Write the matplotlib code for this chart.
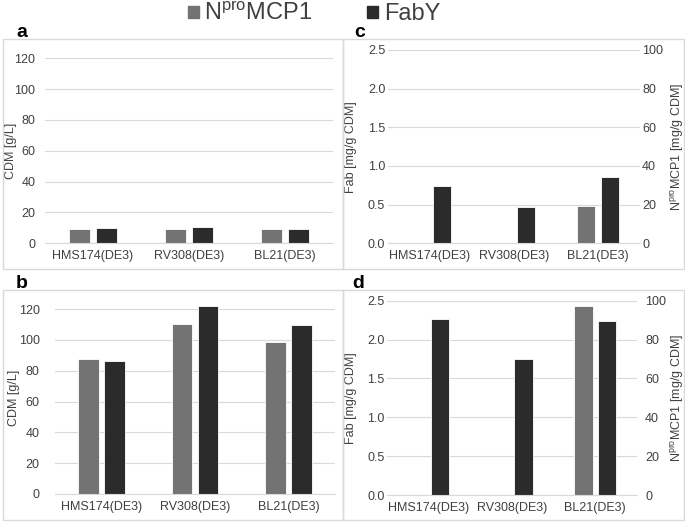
import numpy as np
import matplotlib
matplotlib.use("Agg")
from matplotlib import pyplot as plt
from matplotlib.patches import Patch, Rectangle

plt.rcParams['font.family'] = ['Liberation Sans', 'DejaVu Sans']
plt.rcParams['mathtext.default'] = 'regular'

strains = ["HMS174(DE3)", "RV308(DE3)", "BL21(DE3)"]

# CDM [g/L]
cdm_a_npro = [9.1, 9.5, 9.5]
cdm_a_faby = [9.7, 10.4, 9.1]
cdm_b_npro = [87.4, 110.0, 98.6]
cdm_b_faby = [86.5, 122.0, 109.6]

# Fab [mg/g CDM] (left axis) and NproMCP1 [mg/g CDM] (right axis)
fab_c = [0.74, 0.474, 0.862]
npro_c = [np.nan, np.nan, 19.5]
fab_d = [2.26, 1.745, 2.234]
npro_d = [np.nan, np.nan, 97.3]

GREY = "#737373"
DARK = "#2b2b2b"
GRID = "#d9d9d9"
TXT = "#404040"
W, H = 685, 523
FS = 9

fig = plt.figure(figsize=(W / 100, H / 100), dpi=100)


def px_axes(left, right, top, bottom):
    return fig.add_axes([left / W, (H - bottom) / H, (right - left) / W, (bottom - top) / H])


def style(ax, pad):
    for s in ["top", "left", "right"]:
        ax.spines[s].set_visible(False)
    ax.spines["bottom"].set_color(GRID)
    ax.tick_params(length=0, labelsize=FS, labelcolor=TXT)
    ax.tick_params(axis="y", pad=pad)
    ax.tick_params(axis="x", pad=5)
    ax.set_xlim(-0.5, 2.5)
    ax.set_xticks(range(len(strains)))
    ax.set_xticklabels(strains)


x = np.arange(len(strains))
off = 0.14
bw = 0.22

# panel boxes
for (l, r, t, b) in [(3, 342.7, 39, 269), (342.7, 684, 39, 269),
                     (3, 342.7, 290, 520), (342.7, 684, 290, 520)]:
    fig.patches.append(Rectangle((l / W, (H - b) / H), (r - l) / W, (b - t) / H,
                                 transform=fig.transFigure, fill=False,
                                 edgecolor=GRID, lw=1.0))

# a and b: CDM
for (l, r, t, b), npro, faby, ymax, pad, labx in [
        ((45, 333, 58.3, 243.3), cdm_a_npro, cdm_a_faby, 120, 7, 10),
        ((55, 335, 301.3, 494), cdm_b_npro, cdm_b_faby, 125, 11, 13)]:
    ax = px_axes(l, r, t, b)
    style(ax, pad)
    ax.grid(axis="y", color=GRID, lw=0.8)
    ax.set_axisbelow(True)
    ax.bar(x - off, npro, bw, color=GREY, edgecolor="white", lw=0.6)
    ax.bar(x + off, faby, bw, color=DARK, edgecolor="white", lw=0.6)
    ax.set_ylim(0, ymax)
    ax.set_yticks(range(0, 121, 20))
    ax.set_ylabel("CDM [g/L]", fontsize=FS, color=TXT)
    ax.yaxis.set_label_coords((labx + 7 - l) / (r - l), 0.5)

# c and d: Fab (left) and NproMCP1 (right)
for (l, r, t, b), fab, npro, lpad, rpad in [
        ((388, 640, 50, 243.3), fab_c, npro_c, 2, 1.5),
        ((386.7, 636.7, 300.7, 495), fab_d, npro_d, 1.5, 6)]:
    ax = px_axes(l, r, t, b)
    style(ax, lpad)
    ax2 = ax.twinx()
    ax.set_zorder(ax2.get_zorder() + 1)
    ax.patch.set_visible(False)
    for s in ["top", "left", "right", "bottom"]:
        ax2.spines[s].set_visible(False)
    ax2.grid(axis="y", color=GRID, lw=0.8)
    ax2.set_axisbelow(True)
    ax.bar(x + off, fab, bw, color=DARK, edgecolor="white", lw=0.6)
    ax2.bar(x - off, npro, bw, color=GREY, edgecolor="white", lw=0.6)
    ax.set_ylim(0, 2.5)
    fab_ticks = np.arange(0, 2.51, 0.5)
    ax.set_yticks(fab_ticks)
    ax.set_yticklabels([f"{v:.1f}" for v in fab_ticks])
    ax2.set_ylim(0, 100)
    ax2.set_yticks(range(0, 101, 20))
    ax2.tick_params(length=0, labelsize=FS, labelcolor=TXT, pad=rpad)
    ax.set_ylabel("Fab [mg/g CDM]", fontsize=FS, color=TXT)
    ax.yaxis.set_label_coords((357 - l) / (r - l), 0.5)
    ax2.set_ylabel("N$^{pro}$MCP1 [mg/g CDM]", fontsize=FS, color=TXT)
    ax2.yaxis.set_label_coords((668 - l) / (r - l), 0.5)

# panel letters
for txt, px, py in [("a", 22, 37), ("c", 360, 37), ("b", 22, 288), ("d", 358, 288)]:
    fig.text(px / W, (H - py) / H, txt, fontsize=14, fontweight="bold",
             ha="center", va="baseline", color="black")

# legend
handles = [Patch(color=GREY, label="N$^{pro}$MCP1"), Patch(color=DARK, label="FabY")]
fig.legend(handles=handles, loc="center", bbox_to_anchor=(314 / W, (H - 14) / H),
           ncol=2, frameon=False, fontsize=17, handlelength=0.45, handleheight=0.45,
           handletextpad=0.25, columnspacing=2.3, labelcolor=TXT,
           borderpad=0, borderaxespad=0)

plt.savefig("out.png", dpi=100)
